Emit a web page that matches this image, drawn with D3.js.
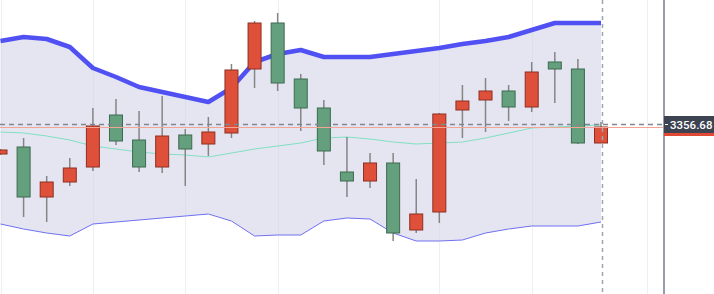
<!DOCTYPE html>
<html>
<head>
<meta charset="utf-8">
<script src="https://cdn.jsdelivr.net/npm/d3@7"></script>
<style>
    html, body { margin: 0; padding: 0; background: #fff; overflow: hidden; }
    svg { display: block; }
</style>
</head>
<body>
<div id="chart"></div>
<script>
// candles, oldest first (index = bar position)
const opens  = [3342, 3345.5, 3320.5, 3328, 3335.5, 3361.5, 3349, 3335.5, 3351.5, 3347, 3352.5, 3384.5, 3407.5, 3379.5,
                3365, 3333, 3328.5, 3337.5, 3304, 3313, 3364, 3369, 3373.5, 3365.5, 3388, 3384.5, 3347.5];
const highs  = [3344.5, 3350, 3331, 3340, 3365, 3369.5, 3363.5, 3371, 3354.5, 3360.5, 3387, 3408.5, 3412.5, 3382,
                3369, 3350.5, 3342.5, 3342.5, 3329.5, 3362.5, 3376.5, 3380, 3376.5, 3388, 3393, 3389.5, 3358];
const lows   = [3341.5, 3310.5, 3308, 3326, 3333.5, 3346.5, 3333, 3332.5, 3326, 3341, 3350, 3375, 3373.5, 3353.5,
                3336.5, 3320.5, 3325, 3298.5, 3302.5, 3307.5, 3350, 3353, 3358.5, 3363, 3367.5, 3347, 3347.5];
const closes = [3344, 3320.5, 3328, 3335, 3356, 3348.5, 3335.5, 3351, 3344.5, 3353, 3384, 3407.5, 3377.5, 3365,
                3343.5, 3328.5, 3337.5, 3302.5, 3312, 3362, 3368.5, 3373.5, 3365.5, 3383, 3384.5, 3347.5, 3355.5];

// bollinger bands
const upperBand = [3398.5, 3400.5, 3399.5, 3395.5, 3385, 3380.5, 3375.5, 3373, 3370.5, 3368, 3375, 3388, 3392, 3394,
                   3390.5, 3390.5, 3390.5, 3392, 3393.5, 3395, 3397, 3398.5, 3400.5, 3404, 3407.5, 3407.5, 3407.5];
const midBand   = [3353, 3352.5, 3351, 3349, 3346, 3344.5, 3343, 3342, 3341.5, 3340.5, 3342.5, 3344.5, 3346, 3347.5,
                   3350, 3350.5, 3349.5, 3348, 3347, 3347.5, 3348, 3350, 3352.5, 3355, 3355.5, 3356, 3356.5];
const lowerBand = [3307, 3304.5, 3302.5, 3301, 3307, 3308, 3309, 3310, 3311, 3312, 3308.5, 3301, 3301.5, 3301.5,
                   3308.5, 3310, 3309.5, 3302.5, 3298.5, 3298.5, 3299, 3302.5, 3304.5, 3306, 3306, 3306, 3308];

const gridBars = [0, 4, 8, 12, 19, 23, 28];
const crosshairPrice = 3356.68;
const crosshairBar = 26;

const width = 714;
const height = 294;
const axisX = 664;

const svg = d3.select('#chart')
    .append('svg')
    .attr('width', width)
    .attr('height', height);

const x = d3.scaleLinear().domain([0, 26]).range([0.5, 601]);
const y = d3.scaleLinear().domain([3272, 3419]).range([height, 0]);

const bars = opens.map((o, i) => ({i, o, h: highs[i], l: lows[i], c: closes[i]}));

// band fill
const area = d3.area()
    .x((d, i) => x(i))
    .y0((d, i) => y(lowerBand[i]))
    .y1(d => y(d));
svg.append('path')
    .datum(upperBand)
    .attr('d', area)
    .attr('fill', '#e5e5f1');

// vertical grid
svg.append('g')
    .selectAll('line')
    .data(gridBars)
    .enter().append('line')
    .attr('x1', d => Math.round(x(d)) + 0.5)
    .attr('x2', d => Math.round(x(d)) + 0.5)
    .attr('y1', 0)
    .attr('y2', height)
    .attr('stroke', '#c8d2e0')
    .attr('stroke-opacity', 0.35);

const line = d3.line().x((d, i) => x(i)).y(d => y(d));

svg.append('path').datum(midBand).attr('d', line)
    .attr('fill', 'none').attr('stroke', '#84dfc3').attr('stroke-width', 1.2);
svg.append('path').datum(lowerBand).attr('d', line)
    .attr('fill', 'none').attr('stroke', '#7070f2').attr('stroke-width', 1);
svg.append('path').datum(upperBand).attr('d', line)
    .attr('fill', 'none').attr('stroke', '#5151f3').attr('stroke-width', 4.5)
    .attr('stroke-linejoin', 'round');

// candles
const up = d => d.c >= d.o;
const candle = svg.append('g');
candle.selectAll('line')
    .data(bars)
    .enter().append('line')
    .attr('x1', d => x(d.i))
    .attr('x2', d => x(d.i))
    .attr('y1', d => y(d.h))
    .attr('y2', d => y(d.l))
    .attr('stroke', '#858585')
    .attr('stroke-width', 1.5);
candle.selectAll('rect')
    .data(bars)
    .enter().append('rect')
    .attr('x', d => x(d.i) - 6.5)
    .attr('width', 13)
    .attr('y', d => y(Math.max(d.o, d.c)))
    .attr('height', d => Math.max(1, y(Math.min(d.o, d.c)) - y(Math.max(d.o, d.c))))
    .attr('fill', d => up(d) ? '#de5039' : '#64a07d')
    .attr('stroke', d => up(d) ? '#8e2f22' : '#3c6b50')
    .attr('stroke-width', 1);

// last price + crosshair lines
const last = closes[closes.length - 1];
svg.append('line')
    .attr('x1', 0).attr('x2', axisX)
    .attr('y1', Math.round(y(last)) + 0.5).attr('y2', Math.round(y(last)) + 0.5)
    .attr('stroke', '#f2a595').attr('stroke-width', 1);

const cy = Math.round(y(crosshairPrice)) - 0.5;
svg.append('line')
    .attr('x1', 0).attr('x2', axisX)
    .attr('y1', cy).attr('y2', cy)
    .attr('stroke', '#7f8790').attr('stroke-width', 1.3)
    .attr('stroke-dasharray', '5,4');

svg.append('line')
    .attr('x1', x(crosshairBar) + 1.5).attr('x2', x(crosshairBar) + 1.5)
    .attr('y1', 0).attr('y2', height)
    .attr('stroke', '#9aa6b2').attr('stroke-width', 1.5)
    .attr('stroke-dasharray', '4,4');

// price axis border
svg.append('line')
    .attr('x1', axisX).attr('x2', axisX)
    .attr('y1', 0).attr('y2', height)
    .attr('stroke', '#9b9ba8').attr('stroke-width', 2);

// last price label (mostly hidden) and crosshair label
const lastY = y(last);
svg.append('rect')
    .attr('x', axisX).attr('y', lastY - 8)
    .attr('width', width - axisX).attr('height', 17)
    .attr('fill', '#e04a35');
svg.append('rect')
    .attr('x', axisX).attr('y', cy - 8.5)
    .attr('width', width - axisX).attr('height', 17)
    .attr('fill', '#3d4350');
svg.append('line')
    .attr('x1', axisX + 1).attr('x2', axisX + 4)
    .attr('y1', cy).attr('y2', cy)
    .attr('stroke', '#fff').attr('stroke-width', 1);
svg.append('text')
    .attr('x', axisX + 6)
    .attr('y', cy + 4.5)
    .attr('fill', '#fff')
    .attr('font-family', 'Roboto, "Noto Sans", sans-serif')
    .attr('font-size', 11.5)
    .attr('font-weight', 500)
    .text(d3.format('.2f')(crosshairPrice));
</script>
</body>
</html>
